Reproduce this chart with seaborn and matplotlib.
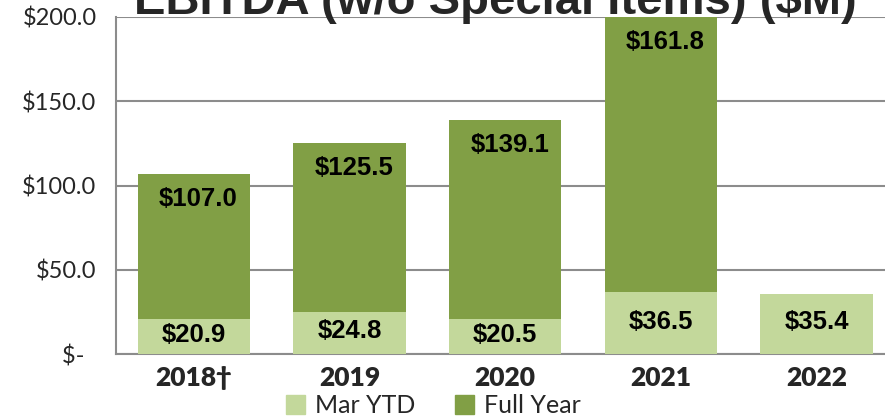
import pandas as pd
import matplotlib
matplotlib.use("Agg")
import matplotlib.pyplot as plt
import seaborn as sns

# data
years = ["2018\u2020", "2019", "2020", "2021", "2022"]
mar_ytd = [20.9, 24.8, 20.5, 36.5, 35.4]
full_year = [107.0, 125.5, 139.1, 161.8, None]
# height of the dark bar as drawn (2021 reaches the top of the axis)
full_year_bar = [107.0, 125.5, 139.1, 200.0, 0.0]
y_ticks = [0, 50, 100, 150, 200]
y_tick_labels = ["$-  ", "$50.0", "$100.0", "$150.0", "$200.0"]

light = "#C3D89B"
dark = "#819F45"
grid_col = "#8C8C8C"

sns.set_theme(style="white")
plt.rcParams["font.family"] = ["Lato", "DejaVu Sans"]

df = pd.DataFrame({"year": years, "ytd": mar_ytd, "fy": full_year_bar})

fig = plt.figure(figsize=(8.85, 4.20), dpi=100)
ax = fig.add_axes([116 / 885, 66 / 420, 1 - 116 / 885, (354 - 17) / 420])

# full year bars first, Mar YTD drawn over the bottom of them
sns.barplot(data=df, x="year", y="fy", color=dark, width=0.72, saturation=1,
            linewidth=0, ax=ax, zorder=2)
sns.barplot(data=df, x="year", y="ytd", color=light, width=0.72, saturation=1,
            linewidth=0, ax=ax, zorder=3)

ax.set_xlim(-0.5, 4.44)
ax.set_ylim(0, 200)
ax.set_yticks(y_ticks)
ax.set_yticklabels(y_tick_labels, fontsize=17)
ax.tick_params(axis="y", length=8, width=1.5, color=grid_col, pad=6)
ax.tick_params(axis="x", length=0, pad=9)
for lbl in ax.get_xticklabels():
    lbl.set_fontsize(19)
    lbl.set_fontweight("heavy")
ax.set_xlabel("")
ax.set_ylabel("")

ax.yaxis.grid(True, color=grid_col, linewidth=1.5, zorder=0)
ax.set_axisbelow(True)
for side in ["top", "right"]:
    ax.spines[side].set_visible(False)
ax.spines["left"].set_color(grid_col)
ax.spines["left"].set_linewidth(1.5)
ax.spines["bottom"].set_color(grid_col)
ax.spines["bottom"].set_linewidth(1.5)

lab_font = dict(family=["Liberation Sans", "DejaVu Sans"], fontweight="bold",
                fontsize=18.5, ha="center", va="center", color="black", zorder=5)

# value labels
for i in range(len(years)):
    if full_year[i] is not None:
        ax.text(i + 0.03, full_year_bar[i] - 15, f"${full_year[i]:.1f}", **lab_font)
    ax.text(i, mar_ytd[i] / 2 + 1, f"${mar_ytd[i]:.1f}", **lab_font)

fig.text(0.56, 0.967, "EBITDA (w/o Special Items) ($M)", ha="center", va="baseline",
         family=["Liberation Sans", "DejaVu Sans"], fontweight="bold", fontsize=34)

handles = [plt.Rectangle((0, 0), 1, 1, color=light),
           plt.Rectangle((0, 0), 1, 1, color=dark)]
fig.legend(handles, ["Mar YTD", "Full Year"], loc="center", bbox_to_anchor=(0.49, 0.034),
           ncol=2, frameon=False, fontsize=18, handlelength=0.75, handleheight=0.75,
           handletextpad=0.4, columnspacing=1.6)

fig.savefig("out.png", dpi=100)
